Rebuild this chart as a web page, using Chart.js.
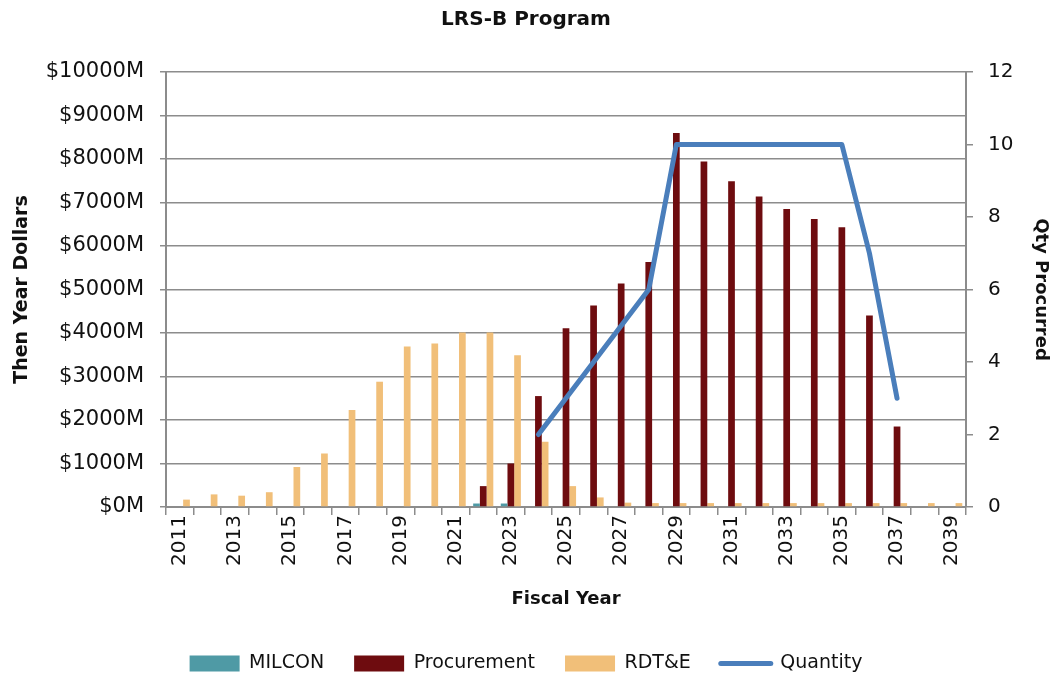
<!DOCTYPE html>
<html>
<head>
<meta charset="utf-8">
<script src="https://cdn.jsdelivr.net/npm/chart.js@4/dist/chart.umd.min.js"></script>
<style>
  html, body { margin: 0; padding: 0; background: #fff; }
  canvas { display: block; }
</style>
</head>
<body>
<canvas id="lrsChart" width="1052" height="675"></canvas>
<script>
// Data (millions, then-year dollars)
const years = [
  "2011", "2012", "2013", "2014", "2015", "2016", "2017", "2018", "2019", "2020",
  "2021", "2022", "2023", "2024", "2025", "2026", "2027", "2028", "2029", "2030",
  "2031", "2032", "2033", "2034", "2035", "2036", "2037", "2038", "2039"
];
const milcon = [
  0, 0, 0, 0, 0, 0, 0, 0, 0, 0,
  0, 80, 80, 0, 0, 0, 0, 0, 0, 0,
  0, 0, 0, 0, 0, 0, 0, 0, 0
];
const procurement = [
  0, 0, 0, 0, 0, 0, 0, 0, 0, 0,
  0, 480, 1000, 2550, 4110, 4630, 5140, 5630, 8600, 7940,
  7490, 7140, 6850, 6620, 6430, 4400, 1850, 0, 0
];
const rdte = [
  170, 290, 260, 340, 920, 1230, 2230, 2880, 3690, 3760,
  4010, 4010, 3490, 1500, 480, 220, 100, 90, 90, 90,
  90, 90, 90, 90, 90, 90, 90, 90, 90
];
const quantity = [
  null, null, null, null, null, null, null, null, null, null,
  null, null, null, 2, 3, 4, 5, 6, 10, 10,
  10, 10, 10, 10, 10, 7, 3, null, null
];
const dollarTicks = [0, 1000, 2000, 3000, 4000, 5000, 6000, 7000, 8000, 9000, 10000];
const qtyTicks = [0, 2, 4, 6, 8, 10, 12];

const FONT = "'DejaVu Sans', sans-serif";
const GRID = "#8c8c8c";

const ctx = document.getElementById("lrsChart").getContext("2d");
new Chart(ctx, {
  type: "bar",
  data: {
    labels: years,
    datasets: [
      { label: "MILCON", data: milcon, backgroundColor: "#4f9aa5", order: 1, yAxisID: "y" },
      { label: "Procurement", data: procurement, backgroundColor: "#6e0c0f", order: 1, yAxisID: "y" },
      { label: "RDT&E", data: rdte, backgroundColor: "#f1bf79", order: 1, yAxisID: "y" },
      {
        type: "line",
        label: "Quantity",
        data: quantity,
        borderColor: "#4a7ebb",
        backgroundColor: "#4a7ebb",
        borderWidth: 5,
        borderCapStyle: "round",
        borderJoinStyle: "round",
        pointRadius: 0,
        tension: 0,
        spanGaps: false,
        order: 0,
        yAxisID: "y1",
      },
    ],
  },
  options: {
    responsive: false,
    maintainAspectRatio: false,
    animation: false,
    devicePixelRatio: 1,
    layout: { padding: { left: 0, right: 0, top: 0, bottom: -8 } },
    datasets: {
      bar: { categoryPercentage: 0.73, barPercentage: 1.0 },
    },
    plugins: {
      tooltip: { enabled: false },
      title: {
        display: true,
        text: "LRS-B Program",
        color: "#111",
        font: { family: FONT, size: 20, weight: "bold" },
        padding: { top: 8, bottom: 40 },
      },
      legend: {
        position: "bottom",
        labels: {
          color: "#111",
          font: { family: FONT, size: 19 },
          usePointStyle: true,
          pointStyleWidth: 50,
          boxHeight: 16,
          padding: 30,
          sort: (a, b) => a.datasetIndex - b.datasetIndex,
          generateLabels: (chart) => {
            const items = Chart.defaults.plugins.legend.labels.generateLabels(chart);
            items.forEach((it) => {
              if (it.datasetIndex === 3) {
                it.pointStyle = "line";
                it.lineWidth = 5;
                it.lineCap = "round";
                it.strokeStyle = "#4a7ebb";
              } else {
                it.pointStyle = "rect";
                it.lineWidth = 0;
              }
            });
            return items;
          },
        },
      },
    },
    scales: {
      x: {
        grid: { drawOnChartArea: false, drawTicks: true, tickLength: 8, color: GRID, lineWidth: 1.5 },
        border: { display: true, color: GRID, width: 2 },
        ticks: {
          autoSkip: false,
          minRotation: 90,
          maxRotation: 90,
          padding: 0,
          color: "#111",
          font: { family: FONT, size: 20 },
          callback: (val, i) => (i % 2 === 0 ? years[i] : ""),
        },
        title: {
          display: true,
          text: "Fiscal Year",
          color: "#111",
          font: { family: FONT, size: 18, weight: "bold" },
          padding: { top: 4, bottom: 14 },
        },
        afterFit: (scale) => { scale.height = 117; },
      },
      y: {
        position: "left",
        min: 0,
        max: 10000,
        afterBuildTicks: (scale) => { scale.ticks = dollarTicks.map((v) => ({ value: v })); },
        grid: { color: GRID, lineWidth: 1.5, tickLength: 6 },
        border: { display: true, color: GRID, width: 2 },
        ticks: {
          padding: 16,
          color: "#111",
          font: { family: FONT, size: 21 },
          callback: (v) => "$" + v + "M",
        },
        title: {
          display: true,
          text: "Then Year Dollars",
          color: "#111",
          font: { family: FONT, size: 19, weight: "bold" },
          padding: { top: 11, bottom: 0 },
        },
        afterFit: (scale) => { scale.width = 166; },
      },
      y1: {
        position: "right",
        min: 0,
        max: 12,
        afterBuildTicks: (scale) => { scale.ticks = qtyTicks.map((v) => ({ value: v })); },
        grid: { drawOnChartArea: false, color: GRID, lineWidth: 1.5, tickLength: 7 },
        border: { display: true, color: GRID, width: 2 },
        ticks: {
          padding: 15,
          color: "#111",
          font: { family: FONT, size: 20 },
        },
        title: {
          display: true,
          text: "Qty Procurred",
          color: "#111",
          font: { family: FONT, size: 18, weight: "bold" },
          padding: { top: 1, bottom: 0 },
        },
        afterFit: (scale) => { scale.width = 86; },
      },
    },
  },
});
</script>
</body>
</html>
